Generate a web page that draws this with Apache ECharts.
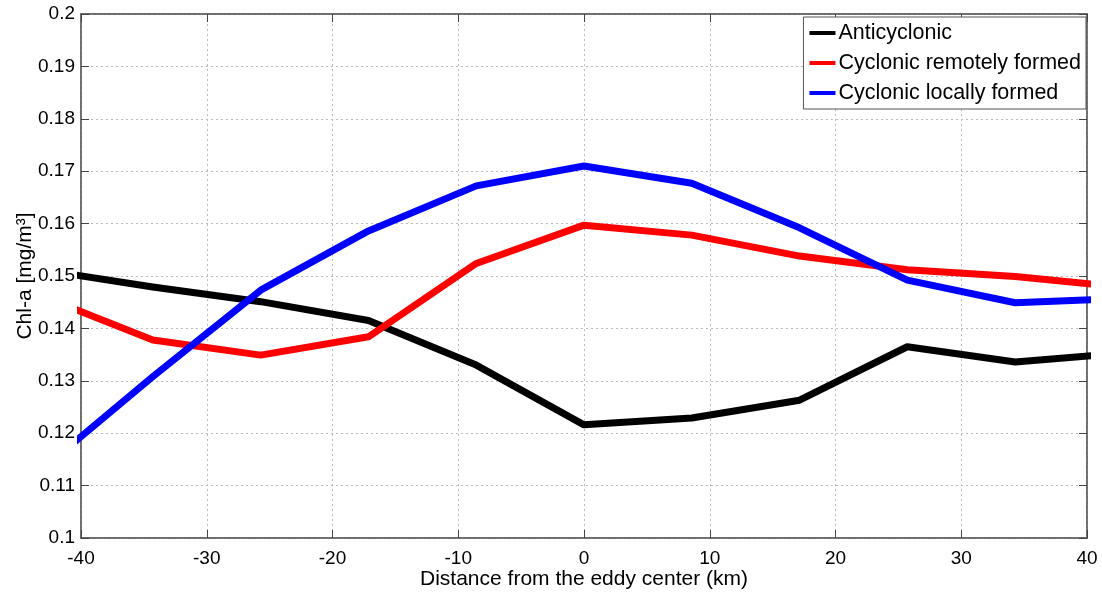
<!DOCTYPE html>
<html>
<head>
<meta charset="utf-8">
<script src="https://cdn.jsdelivr.net/npm/echarts@6/dist/echarts.min.js"></script>
<style>
html,body{margin:0;padding:0;background:#fff;}
#chart{width:1102px;height:594px;}
</style>
</head>
<body>
<div id="chart"></div>
<script>
const distances = [-42.86, -34.29, -25.71, -17.14, -8.57, 0, 8.57, 17.14, 25.71, 34.29, 42.86];
const anticyclonic = [0.1511, 0.1479, 0.1451, 0.1415, 0.1330, 0.1216, 0.1229, 0.1263, 0.1365, 0.1336, 0.1353];
const cyclonicRemote = [0.1459, 0.1378, 0.1349, 0.1384, 0.1524, 0.1597, 0.1578, 0.1538, 0.1512, 0.1499, 0.1479];
const cyclonicLocal = [0.1136, 0.1308, 0.1473, 0.1586, 0.1672, 0.1710, 0.1677, 0.1592, 0.1492, 0.1449, 0.1457];
const seriesNames = ['Anticyclonic', 'Cyclonic remotely formed', 'Cyclonic locally formed'];
const seriesColors = ['#000000', '#ff0000', '#0000ff'];
const xTicks = [-40, -30, -20, -10, 0, 10, 20, 30, 40];
const yTicks = [0.1, 0.11, 0.12, 0.13, 0.14, 0.15, 0.16, 0.17, 0.18, 0.19, 0.2];

const FONT = '"Liberation Sans", Arial, sans-serif';
const TXT = '#000';
const pair = (ys) => distances.map((x, i) => [x, ys[i]]);
const allData = [anticyclonic, cyclonicRemote, cyclonicLocal];

const chart = echarts.init(document.getElementById('chart'), null, {renderer: 'canvas'});
const axisLineStyle = {color: '#666', width: 1.5};
const tickStyle = {inside: true, length: 8, lineStyle: {color: '#444'}};
chart.setOption({
  animation: false,
  backgroundColor: '#fff',
  grid: {left: 81, right: 15, top: 14, bottom: 56, containLabel: false, outerBoundsMode: 'none',
    show: true, borderColor: '#666', borderWidth: 1.5},
  legend: {
    orient: 'vertical',
    right: 16, top: 17,
    data: seriesNames,
    icon: 'rect',
    itemWidth: 26, itemHeight: 4,
    itemGap: 8,
    padding: [5, 5, 5, 6],
    backgroundColor: '#fff',
    borderColor: '#555', borderWidth: 1,
    textStyle: {fontFamily: FONT, fontSize: 21.5, lineHeight: 21, color: TXT, padding: [0, 0, 0, -2]}
  },
  xAxis: [{
    type: 'value', min: -40, max: 40, interval: 10,
    name: 'Distance from the eddy center (km)',
    nameLocation: 'middle', nameGap: 31, nameMoveOverlap: false,
    nameTextStyle: {fontFamily: FONT, fontSize: 21, color: TXT},
    axisLine: {onZero: false, lineStyle: axisLineStyle},
    axisTick: tickStyle,
    axisLabel: {fontFamily: FONT, fontSize: 19, color: TXT, margin: 11,
      formatter: v => xTicks.includes(v) ? String(v) : ''},
    splitLine: {show: true, lineStyle: {color: '#bbb', type: [2, 3], width: 1}}
  }, {
    type: 'value', min: -40, max: 40, interval: 10, position: 'top',
    axisLine: {show: true, onZero: false, lineStyle: axisLineStyle},
    axisTick: tickStyle,
    axisLabel: {show: false}, splitLine: {show: false}
  }],
  yAxis: [{
    type: 'value', min: 0.1, max: 0.2, interval: 0.01,
    name: 'Chl-a [mg/m³]',
    nameLocation: 'middle', nameGap: 45, nameMoveOverlap: false,
    nameTextStyle: {fontFamily: FONT, fontSize: 21, color: TXT},
    axisLine: {show: true, onZero: false, lineStyle: axisLineStyle},
    axisTick: Object.assign({show: true}, tickStyle),
    axisLabel: {fontFamily: FONT, fontSize: 19, color: TXT, margin: 6,
      formatter: v => String(parseFloat(v.toFixed(2)))},
    splitLine: {show: true, lineStyle: {color: '#bbb', type: [2, 3], width: 1}}
  }, {
    type: 'value', min: 0.1, max: 0.2, interval: 0.01, position: 'right',
    axisLine: {show: true, onZero: false, lineStyle: axisLineStyle},
    axisTick: Object.assign({show: true}, tickStyle),
    axisLabel: {show: false}, splitLine: {show: false}
  }],
  series: seriesNames.map((name, i) => ({
    name: name,
    type: 'line',
    data: pair(allData[i]),
    showSymbol: false,
    symbol: 'none',
    clip: true,
    lineStyle: {color: seriesColors[i], width: 7, join: 'round'},
    itemStyle: {color: seriesColors[i]},
    z: 3 + i
  }))
});
</script>
</body>
</html>
